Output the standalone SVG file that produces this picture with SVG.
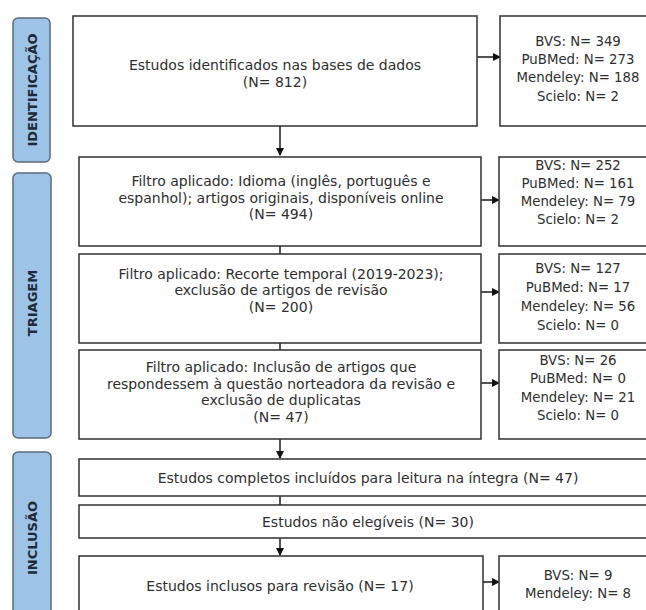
<svg xmlns="http://www.w3.org/2000/svg" width="646" height="610" viewBox="0 0 646 610">
<defs>
<style>
.phase{fill:#9dc3e6;stroke:#5b6b7c;stroke-width:1.5}
.ptxt{font-family:"DejaVu Sans",sans-serif;font-weight:bold;font-size:13px;fill:#1e2a38;text-anchor:middle}
.box{fill:#fff;stroke:#3c3c3c;stroke-width:1.6}
.t{font-family:"DejaVu Sans",sans-serif;font-size:14px;fill:#2e2e2e;text-anchor:middle}
.s{font-family:"DejaVu Sans",sans-serif;font-size:13.3px;fill:#2e2e2e;text-anchor:middle}
.c{stroke:#1a1a1a;stroke-width:1.5;fill:none}
</style>
<marker id="ah" markerWidth="8" markerHeight="8" refX="7" refY="4" orient="auto" markerUnits="userSpaceOnUse">
<path d="M0,0 L8,4 L0,8 Z" fill="#111"/>
</marker>
</defs>
<rect width="646" height="610" fill="#fff"/>

<g id="phase-identificacao">
<rect class="phase" x="13" y="18" width="37" height="144" rx="5"/>
<text class="ptxt" transform="translate(36.5,90) rotate(-90)">IDENTIFICAÇÃO</text>
</g>
<g id="phase-triagem">
<rect class="phase" x="13" y="173" width="38" height="265" rx="5"/>
<text class="ptxt" transform="translate(37,303) rotate(-90)">TRIAGEM</text>
</g>
<g id="phase-inclusao">
<rect class="phase" x="13" y="452" width="38" height="175" rx="5"/>
<text class="ptxt" transform="translate(37,538) rotate(-90)">INCLUSÃO</text>
</g>

<g id="connectors">
<line class="c" x1="477" y1="57" x2="500" y2="57" marker-end="url(#ah)"/>
<line class="c" x1="280" y1="126" x2="280" y2="155" marker-end="url(#ah)"/>
<line class="c" x1="481" y1="200" x2="499" y2="200" marker-end="url(#ah)"/>
<line class="c" x1="280" y1="246" x2="280" y2="254"/>
<line class="c" x1="481" y1="292" x2="499" y2="292" marker-end="url(#ah)"/>
<line class="c" x1="280" y1="343" x2="280" y2="350"/>
<line class="c" x1="481" y1="383" x2="499" y2="383" marker-end="url(#ah)"/>
<line class="c" x1="280" y1="439" x2="280" y2="458" marker-end="url(#ah)"/>
<line class="c" x1="280" y1="496" x2="280" y2="505"/>
<line class="c" x1="280" y1="538" x2="280" y2="555" marker-end="url(#ah)"/>
<line class="c" x1="483" y1="582" x2="499" y2="582" marker-end="url(#ah)"/>
</g>

<g id="n1">
<rect class="box" x="73" y="16" width="404" height="110"/>
<text class="t" x="275" y="70">Estudos identificados nas bases de dados</text>
<text class="t" x="275" y="87">(N= 812)</text>
</g>
<g id="s1">
<rect class="box" x="500" y="16" width="160" height="110"/>
<text class="s" x="578" y="46">BVS: N= 349</text>
<text class="s" x="578" y="64">PuBMed: N= 273</text>
<text class="s" x="578" y="82">Mendeley: N= 188</text>
<text class="s" x="578" y="101">Scielo: N= 2</text>
</g>

<g id="n2">
<rect class="box" x="79" y="157" width="402" height="89"/>
<text class="t" x="281" y="186">Filtro aplicado: Idioma (inglês, português e</text>
<text class="t" x="281" y="202.5">espanhol); artigos originais, disponíveis online</text>
<text class="t" x="281" y="219">(N= 494)</text>
</g>
<g id="s2">
<rect class="box" x="499" y="157" width="160" height="89"/>
<text class="s" x="578" y="170">BVS: N= 252</text>
<text class="s" x="578" y="188">PuBMed: N= 161</text>
<text class="s" x="578" y="206">Mendeley: N= 79</text>
<text class="s" x="578" y="224">Scielo: N= 2</text>
</g>

<g id="n3">
<rect class="box" x="79" y="254" width="402" height="89"/>
<text class="t" x="281" y="278.5">Filtro aplicado: Recorte temporal (2019-2023);</text>
<text class="t" x="281" y="295">exclusão de artigos de revisão</text>
<text class="t" x="281" y="311.5">(N= 200)</text>
</g>
<g id="s3">
<rect class="box" x="499" y="254" width="160" height="89"/>
<text class="s" x="578" y="273">BVS: N= 127</text>
<text class="s" x="578" y="292">PuBMed: N= 17</text>
<text class="s" x="578" y="311">Mendeley: N= 56</text>
<text class="s" x="578" y="330">Scielo: N= 0</text>
</g>

<g id="n4">
<rect class="box" x="79" y="350" width="402" height="89"/>
<text class="t" x="281" y="372">Filtro aplicado: Inclusão de artigos que</text>
<text class="t" x="281" y="388.5">respondessem à questão norteadora da revisão e</text>
<text class="t" x="281" y="405">exclusão de duplicatas</text>
<text class="t" x="281" y="421.5">(N= 47)</text>
</g>
<g id="s4">
<rect class="box" x="499" y="350" width="160" height="89"/>
<text class="s" x="578" y="365">BVS: N= 26</text>
<text class="s" x="578" y="383">PuBMed: N= 0</text>
<text class="s" x="578" y="402">Mendeley: N= 21</text>
<text class="s" x="578" y="420">Scielo: N= 0</text>
</g>

<g id="n5">
<rect class="box" x="79" y="459" width="580" height="37"/>
<text class="t" x="368" y="483">Estudos completos incluídos para leitura na íntegra (N= 47)</text>
</g>
<g id="n6">
<rect class="box" x="79" y="505" width="580" height="33"/>
<text class="t" x="368" y="527">Estudos não elegíveis (N= 30)</text>
</g>

<g id="n7">
<rect class="box" x="79" y="556" width="404" height="70"/>
<text class="t" x="280" y="591">Estudos inclusos para revisão (N= 17)</text>
</g>
<g id="s7">
<rect class="box" x="499" y="556" width="160" height="70"/>
<text class="s" x="578" y="580">BVS: N= 9</text>
<text class="s" x="578" y="598">Mendeley: N= 8</text>
</g>
</svg>
